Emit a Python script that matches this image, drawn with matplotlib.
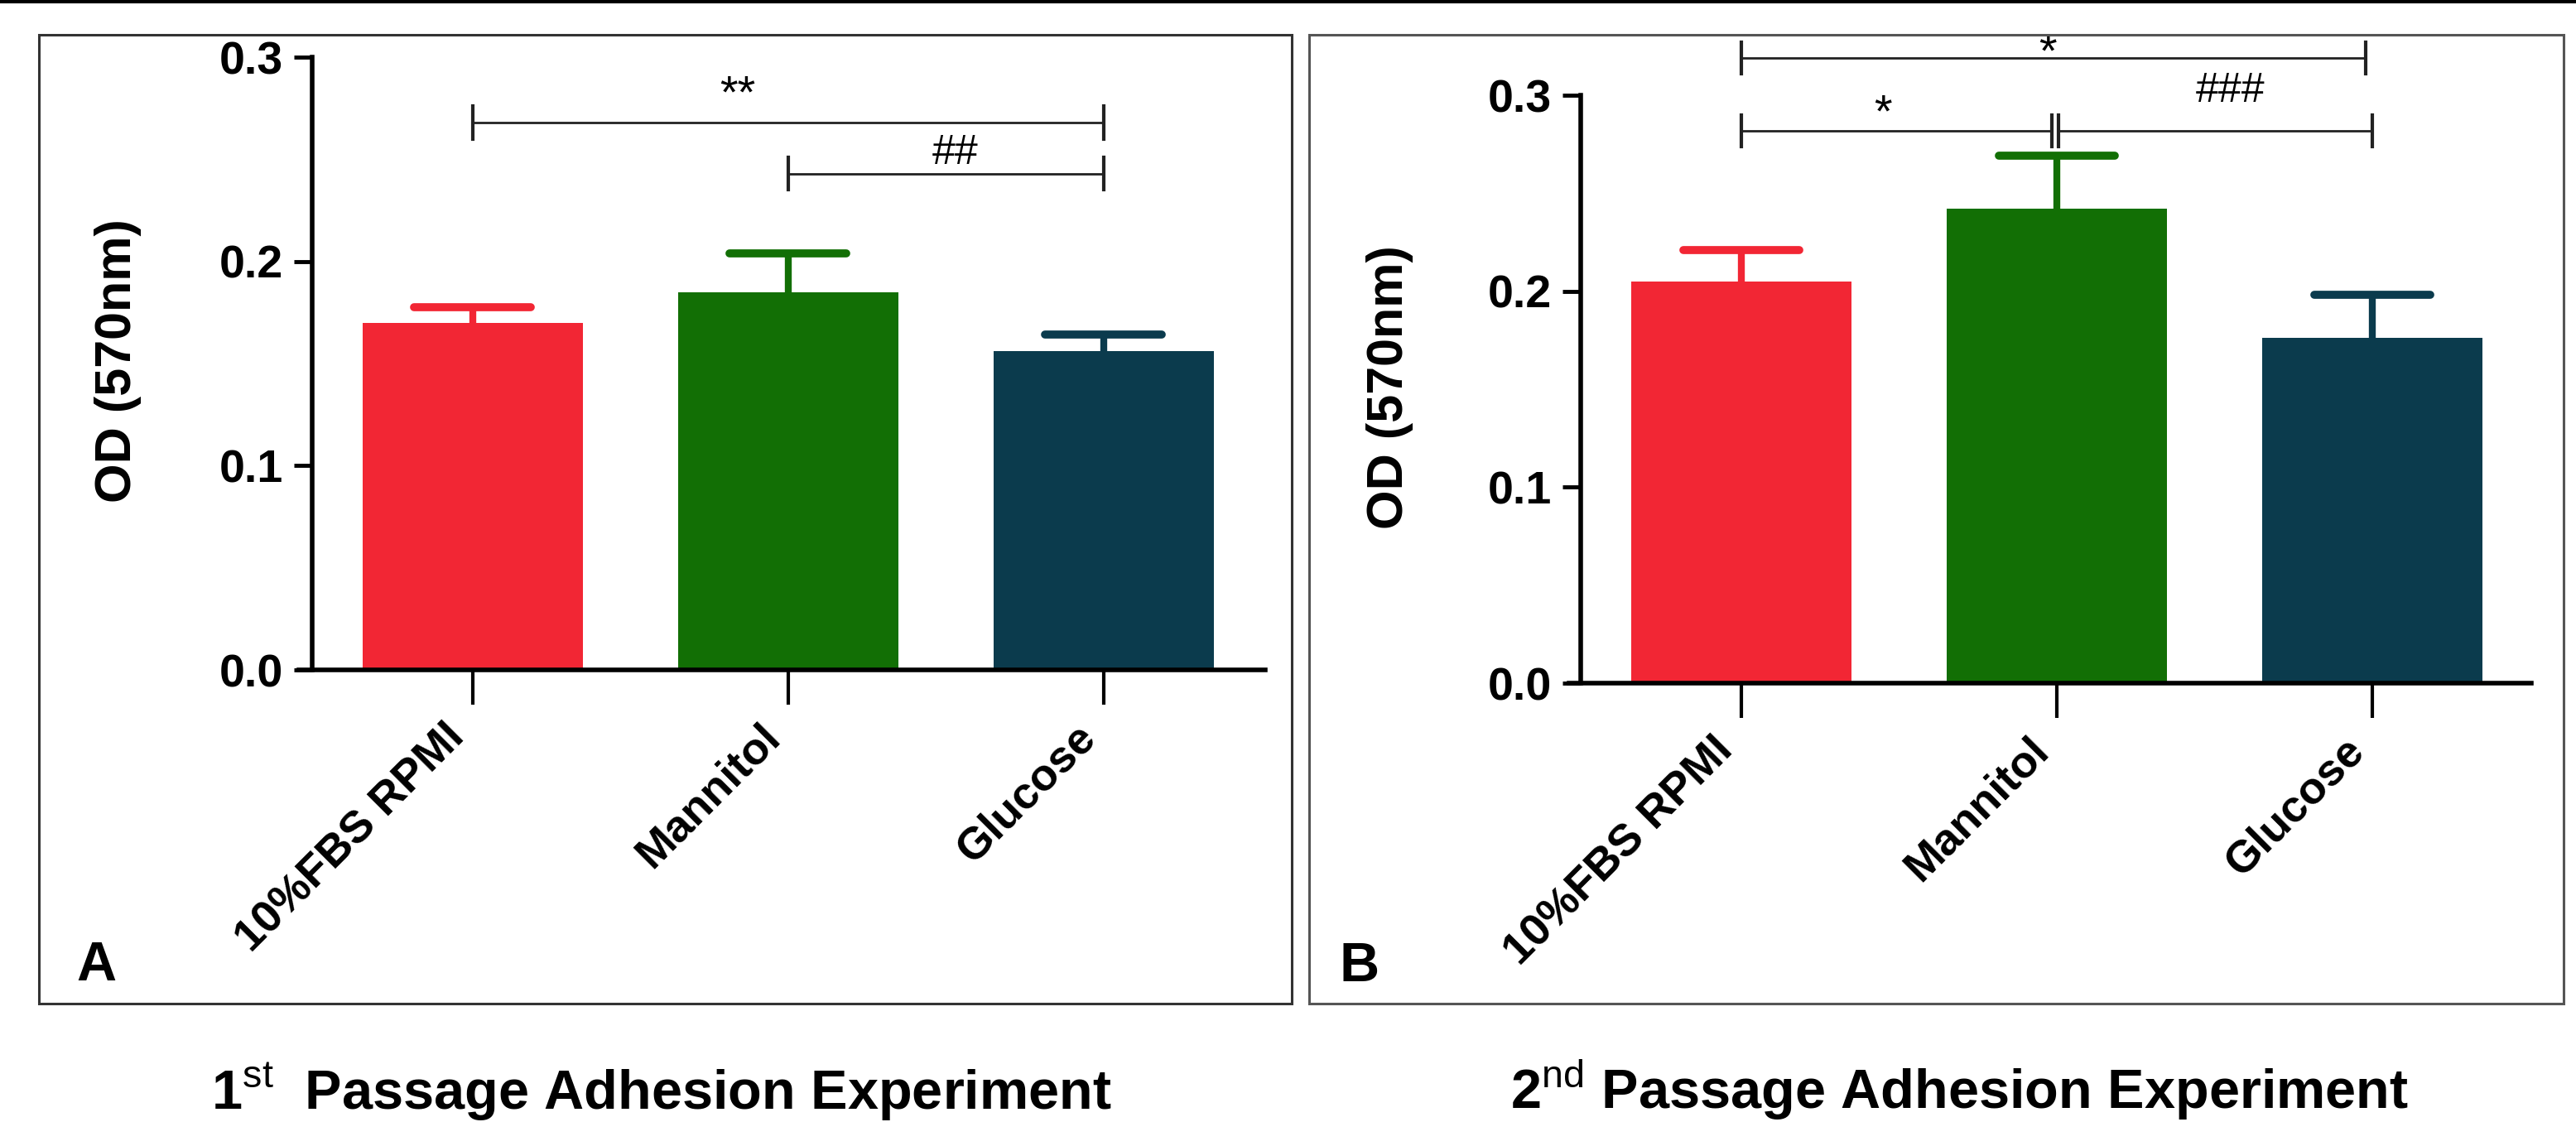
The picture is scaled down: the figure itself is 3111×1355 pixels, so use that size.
import matplotlib
matplotlib.use("Agg")
import matplotlib.pyplot as plt
from matplotlib import font_manager
from matplotlib.patches import Rectangle
from matplotlib.lines import Line2D

# ---- data ----
groups = ["10%FBS RPMI", "Mannitol", "Glucose"]
bar_colors = ["#F22634", "#126F05", "#0B3B4D"]

mean_p1 = [0.170, 0.185, 0.156]
sem_p1 = [0.0075, 0.019, 0.008]

mean_p2 = [0.205, 0.242, 0.176]
sem_p2 = [0.016, 0.027, 0.022]

# significance brackets: (x_start, x_end, y, label, label_x, label_y)
sig_p1 = [
    (0.0, 2.0, 0.268, "**", 0.84, 0.281),
    (1.0, 2.0, 0.243, "##", 1.53, 0.253),
]
sig_p2 = [
    (0.0, 1.98, 0.319, "*", 0.97, 0.321),
    (0.0, 0.985, 0.282, "*", 0.45, 0.290),
    (1.005, 2.0, 0.282, "###", 1.55, 0.302),
]

yticks = [0.0, 0.1, 0.2, 0.3]
ytick_labels = ["0.0", "0.1", "0.2", "0.3"]
ylabel = "OD (570nm)"
titles = [r"1$^{\rm st}$  Passage Adhesion Experiment",
          r"2$^{\rm nd}$ Passage Adhesion Experiment"]
panel_letters = ["A", "B"]

# ---- fonts ----
def has_font(name):
    try:
        font_manager.findfont(name, fallback_to_default=False)
        return True
    except Exception:
        return False

MAIN = "Liberation Sans" if has_font("Liberation Sans") else "DejaVu Sans"
NARROW = "Liberation Sans Narrow" if has_font("Liberation Sans Narrow") else MAIN

plt.rcParams.update({
    "font.family": [MAIN, "DejaVu Sans"],
    "mathtext.fontset": "custom",
    "mathtext.rm": MAIN,
    "mathtext.bf": MAIN + ":bold",
})

W, H = 3111, 1355
fig = plt.figure(figsize=(W / 100, H / 100), dpi=100)


def px_rect(x0, y0, x1, y1):
    # pixel box (top-left origin) -> figure fraction [l, b, w, h]
    return [x0 / W, 1 - y1 / H, (x1 - x0) / W, (y1 - y0) / H]


# top rule and panel frames
fig.add_artist(Line2D([0, 1], [1 - 2 / H, 1 - 2 / H], color="black", lw=3,
                      transform=fig.transFigure))
frames = [(47, 42, 1560, 1212, "#333333"), (1581, 42, 3096, 1212, "#555555")]
for x0, y0, x1, y1, c in frames:
    l, b, w, h = px_rect(x0, y0, x1, y1)
    fig.add_artist(Rectangle((l, b), w, h, transform=fig.transFigure,
                             fill=False, edgecolor=c, lw=2.2))

axes_px = [(361, 69, 1528, 809), (1895, 115, 3057, 825)]
xlims = [(-0.551, 2.512), (-0.546, 2.504)]
label_pos = [(-0.187, 0.504), (-0.186, 0.504)]
letter_px = [(92, 1184), (1617, 1185)]
title_x = [799, 2366]

datasets = [(mean_p1, sem_p1, sig_p1), (mean_p2, sem_p2, sig_p2)]

for i, (means, sems, sigs) in enumerate(datasets):
    ax = fig.add_axes(px_rect(*axes_px[i]))
    x = list(range(len(groups)))
    ax.bar(x, means, width=0.70, color=bar_colors, zorder=2)

    # upper error bars only (stem + rounded cap)
    tops = [m + s for m, s in zip(means, sems)]
    ax.vlines(x, means, tops, colors=bar_colors, lw=6, zorder=1)
    caps = ax.hlines(tops, [xi - 0.185 for xi in x], [xi + 0.185 for xi in x],
                     colors=bar_colors, lw=7, zorder=1)
    caps.set_capstyle("round")

    ax.set_xlim(*xlims[i])
    ax.set_ylim(0, 0.3)
    ax.spines["top"].set_visible(False)
    ax.spines["right"].set_visible(False)
    ax.spines["left"].set_position(("data", -0.509))
    ax.spines["left"].set_linewidth(4)
    ax.spines["bottom"].set_linewidth(4)
    ax.spines["bottom"].set_zorder(3)

    ax.set_yticks(yticks)
    ax.set_yticklabels(ytick_labels, fontfamily=NARROW, fontweight="bold",
                       fontsize=40)
    ax.tick_params(axis="y", length=16, width=3.5, pad=9)
    ax.set_xticks(x)
    ax.set_xticklabels(groups, rotation=45, ha="right", fontweight="bold",
                       fontsize=39)
    ax.tick_params(axis="x", length=30, width=3, pad=10)

    ax.set_ylabel(ylabel, fontsize=44, fontweight="bold")
    ax.yaxis.label.set_va("center")
    ax.yaxis.set_label_coords(*label_pos[i])

    for x0, x1, y, lab, lx, ly in sigs:
        ax.plot([x0, x1], [y, y], color="#222222", lw=2, clip_on=False)
        for xe in (x0, x1):
            ax.plot([xe, xe], [y - 0.008, y + 0.008], color="#222222", lw=3,
                    clip_on=False)
        ax.text(lx, ly, lab, ha="center", va="center",
                fontsize=40 if "*" in lab else 36,
                fontfamily=NARROW, clip_on=False)

    lx, ly = letter_px[i]
    fig.text(lx / W, 1 - ly / H, panel_letters[i], fontsize=48,
             fontweight="bold", ha="left", va="baseline")
    fig.text(title_x[i] / W, 0.011, titles[i], fontsize=48, fontweight="bold",
             ha="center", va="baseline")

fig.savefig("out.png", dpi=100, facecolor="white")
